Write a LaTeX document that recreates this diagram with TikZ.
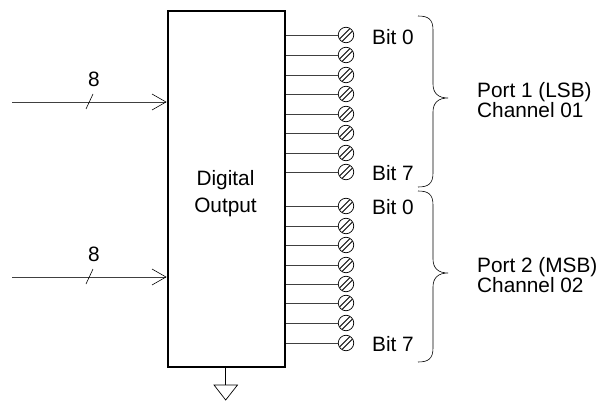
\documentclass[tikz,border=0pt]{standalone}
\usepackage{fontspec}
\setmainfont{Liberation Sans}
\tikzset{x=1pt,y=-1pt,
 lbl/.style={inner sep=0pt,font=\fontsize{20.8}{22}\selectfont},
 wire/.style={line width=0.8pt,draw=black!75},
 box/.style={draw=black,line width=2.4pt,inner sep=0pt,minimum width=117pt,minimum height=356pt,align=center},
 term/.style={circle,draw=black,line width=0.7pt,minimum size=15.5pt,inner sep=0pt,fill=white},
 slash/.style={line width=0.8pt,black}}
\newcommand{\termnode}[2]{%
 \node[term] (#1) at (346,#2) {};
 \begin{scope}[shift={(346,#2)}]
  \draw[slash] (-6.3,3.8) -- (3.8,-6.3);
  \draw[slash] (-3.8,6.3) -- (6.3,-3.8);
 \end{scope}
 \draw[wire] (dout.east |- #1) -- (#1);
}
\newcommand{\bracepath}[3]{% top, tip, bottom y
 \draw[line width=0.6pt] (418,#1) .. controls (428,#1) and (433,#1+3) .. (433,#1+14)
  -- (433,#2-14) .. controls (433,#2-5) and (438,#2) .. (448,#2)
  (448,#2) .. controls (438,#2) and (433,#2+5) .. (433,#2+14)
  -- (433,#3-14) .. controls (433,#3-3) and (428,#3) .. (418,#3);
}
\begin{document}
\begin{tikzpicture}
\useasboundingbox (0,0) rectangle (597,401);
\node[box,anchor=north west] (dout) at (167,10) {};
\node[lbl,anchor=base] (d1) at (225.5,185) {Digital};
\node[lbl,anchor=base] (d2) at (225.5,212) {Output};
% inputs
\coordinate (inA) at (12,102);
\coordinate (inB) at (12,277);
\coordinate (hA) at (166,102);
\coordinate (hB) at (166,277);
\foreach \a/\b/\y in {inA/hA/102,inB/hB/277}{
 \draw[wire] (\a) -- (\b);
 \draw[line width=0.6pt] (152,\y-8) -- (\b) -- (152,\y+8);
 \draw[line width=0.6pt] (86,\y+7) -- (93,\y-8);
}
\node[lbl,anchor=base] (n1) at (94,87) {8};
\node[lbl,anchor=base] (n2) at (94,261) {8};
% terminals
\foreach \n/\y in {a0/35,a1/55,a2/75,a3/94,a4/114,a5/133,a6/153,a7/172,b0/206,b1/226,b2/245,b3/265,b4/284,b5/303,b6/323,b7/343}{
 \termnode{\n}{\y}
}
\node[lbl,anchor=base west] (t1) at (372,45) {Bit 0};
\node[lbl,anchor=base west] (t2) at (372,180) {Bit 7};
\node[lbl,anchor=base west] (t3) at (372,214) {Bit 0};
\node[lbl,anchor=base west] (t4) at (372,351) {Bit 7};
\bracepath{16}{98}{187}
\bracepath{191}{273}{362}
\node[lbl,anchor=base west] (p1) at (477,98) {Port 1 (LSB)};
\node[lbl,anchor=base west] (p1b) at (477,118) {Channel 01};
\node[lbl,anchor=base west] (p2) at (477,272) {Port 2 (MSB)};
\node[lbl,anchor=base west] (p2b) at (477,292) {Channel 02};
% ground
\coordinate (g) at (225.7,366);
\coordinate (g1) at (225.7,385);
\draw[line width=0.7pt] (g) -- (g1);
\draw[line width=0.7pt] (214,385) -- (237.5,385) -- (225.7,400) -- cycle;
\end{tikzpicture}
\end{document}
